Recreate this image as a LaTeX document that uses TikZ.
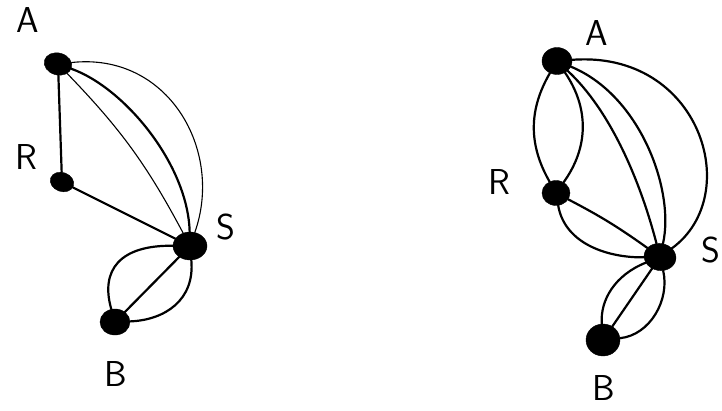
\documentclass[tikz,border=0pt]{standalone}
\usetikzlibrary{shapes.geometric}
\begin{document}
\begin{tikzpicture}[x=1pt,y=-1pt,
  vtx/.style={ellipse,fill=black,draw=black,inner sep=0pt,minimum width=28pt,minimum height=22pt},
  lbl/.style={font=\sffamily\fontsize{36}{36}\selectfont,inner sep=0pt},
  thk/.style={line width=2.2pt,line cap=round},
  thn/.style={line width=1.1pt,line cap=round}]
\useasboundingbox (0,0) rectangle (722,411);
\fill[white] (0,0) rectangle (722,411);
% ---------- left graph
\node[vtx,rotate=-15] (A1) at (58,64) {};
\node[vtx,minimum width=24pt,minimum height=19pt,rotate=-20] (R1) at (62,182) {};
\node[vtx,minimum width=34pt,minimum height=28pt] (S1) at (190,246) {};
\node[vtx,minimum width=30pt,minimum height=26pt] (B1) at (115,322) {};
\node[lbl] (lA1) at (28,20) {A};
\node[lbl] (lR1) at (26,157) {R};
\node[lbl] (lS1) at (226,227) {S};
\node[lbl] (lB1) at (116,374) {B};
\draw[thk] (A1) -- (R1);
\draw[thk] (R1) -- (S1);
\draw[thn] (A1) to[bend left=8] (S1);
\draw[thk] (A1) .. controls (125,88) and (188,165) .. (S1);
\draw[thn] (A1) .. controls (168,52) and (224,150) .. (S1);
\draw[thk] (S1) .. controls (120,245) and (100,270) .. (B1);
\draw[thk] (S1) -- (B1);
\draw[thk] (S1) .. controls (195,300) and (165,320) .. (B1);
% ---------- right graph
\node[vtx,minimum width=30pt,minimum height=27pt] (A2) at (557,61) {};
\node[vtx,minimum width=28pt,minimum height=25pt] (R2) at (556,193) {};
\node[vtx,minimum width=32pt,minimum height=27pt,rotate=-10] (S2) at (660,257) {};
\node[vtx,minimum width=34pt,minimum height=32pt] (B2) at (603,340) {};
\node[lbl] (lA2) at (597,33) {A};
\node[lbl] (lR2) at (499,182) {R};
\node[lbl] (lS2) at (711,250) {S};
\node[lbl] (lB2) at (604,388) {B};
\draw[thk] (A2) to[bend right=30] (R2);
\draw[thk] (A2) to[bend left=35] (R2);
\draw[thk] (R2) to[bend left=4] (S2);
\draw[thk] (R2) .. controls (565,245) and (610,258) .. (S2);
\draw[thk] (A2) .. controls (610,110) and (640,180) .. (S2);
\draw[thk] (A2) .. controls (640,95) and (675,190) .. (S2);
\draw[thk] (A2) .. controls (700,50) and (745,195) .. (S2);
\draw[thk] (S2) .. controls (615,275) and (600,300) .. (B2);
\draw[thk] (S2) -- (B2);
\draw[thk] (S2) .. controls (670,300) and (650,335) .. (B2);
\end{tikzpicture}
\end{document}
